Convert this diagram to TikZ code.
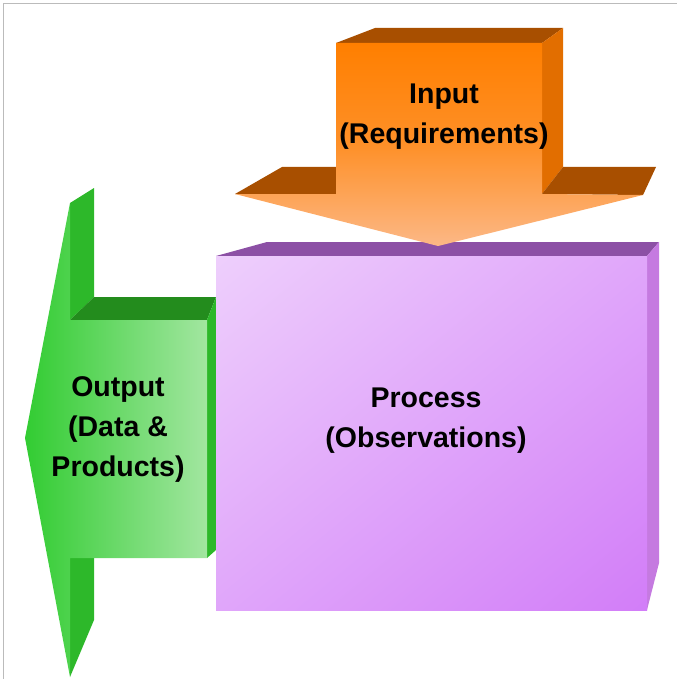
\documentclass[tikz,border=0pt]{standalone}
\usepackage{fontspec}
\setmainfont{Liberation Sans}
\usepackage{xcolor}
\usepackage{tikz}
\usetikzlibrary{positioning,calc,shadings}

\definecolor{orangefront}{HTML}{FF7F00}
\definecolor{orangelight}{HTML}{FCB886}
\definecolor{orangetop}{HTML}{A84F00}
\definecolor{orangeside}{HTML}{E26E00}
\definecolor{purplelight}{HTML}{EECFFC}
\definecolor{purplemid}{HTML}{E0A6FA}
\definecolor{purpledark}{HTML}{D27DF8}
\definecolor{purpletop}{HTML}{8C50A5}
\definecolor{purpleside}{HTML}{C57AE0}
\definecolor{greenfront}{HTML}{32CC32}
\definecolor{greenlight}{HTML}{A2E6A0}
\definecolor{greentop}{HTML}{238C1D}
\definecolor{greenside}{HTML}{2DB82A}
\definecolor{frameline}{HTML}{BBBBBB}

\begin{document}
\begin{tikzpicture}[x=1pt,y=-1pt,
    boxtext/.style={align=center,font=\bfseries\fontsize{28.5}{40}\selectfont}]
    \useasboundingbox (0,0) rectangle (677,679);
    % frame
    \draw[frameline,line width=1pt] (3.5,679) -- (3.5,4) -- (677,4);
    % Output arrow
    \fill[greenside] (70,203) -- (94,188) -- (94,297) -- (70,320) -- cycle;
    \fill[greenside] (70,558) -- (94,558) -- (94,620) -- (70,677) -- cycle;
    \fill[greentop] (70,320) -- (94,297) -- (216,297) -- (207,320) -- cycle;
    \fill[greenside] (207,320) -- (216,297) -- (216,550) -- (207,558) -- cycle;
    \shade[left color=greenfront,right color=greenlight] (70,203) -- (70,320) -- (207,320) -- (207,558) -- (70,558) -- (70,677) -- (25,438) -- cycle;
    % Process box
    \fill[purpletop] (216,256) -- (267,242) -- (659,242) -- (647,256) -- cycle;
    \fill[purpleside] (647,256) -- (659,242) -- (659,563) -- (647,610) -- cycle;
    \shade[upper left=purplelight,lower right=purpledark,upper right=purplemid,lower left=purplemid] (216,256) rectangle (647,610);
    % Input arrow
    \fill[orangetop] (336,43) -- (375,28) -- (563,28) -- (542,43) -- cycle;
    \fill[orangeside] (542,43) -- (563,28) -- (563,167) -- (542,194) -- cycle;
    \fill[orangetop] (235,194) -- (282,167) -- (336,167) -- (336,194) -- cycle;
    \fill[orangetop] (542,194) -- (563,167) -- (656,167) -- (643,195) -- cycle;
    \shade[top color=orangefront,bottom color=orangelight,middle color=orangefront!70!orangelight] (336,43) -- (542,43) -- (542,194) -- (643,195) -- (438,246) -- (235,194) -- (336,194) -- cycle;
    % labels
    \node[boxtext] (input) at (444,117) {Input\\(Requirements)};
    \node[boxtext] (process) at (426,421) {Process\\(Observations)};
    \node[boxtext] (output) at (118,430) {Output\\(Data \&\\Products)};
\end{tikzpicture}
\end{document}
